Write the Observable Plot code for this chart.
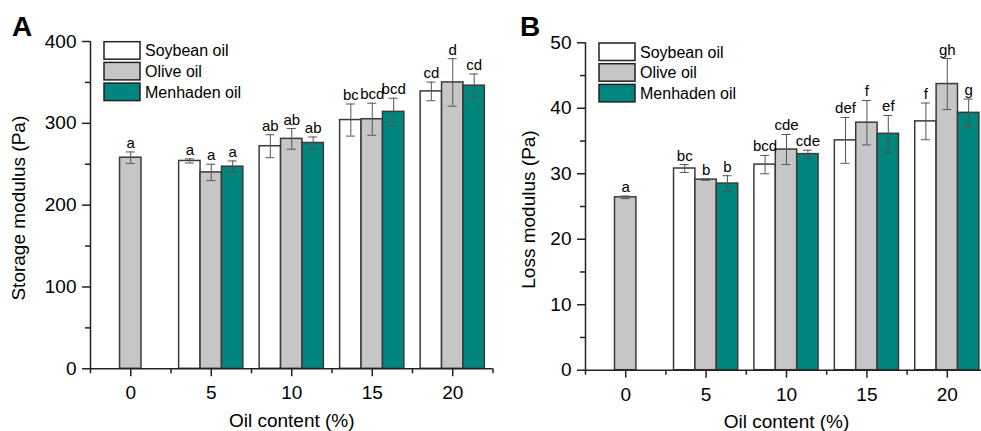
<!DOCTYPE html>
<html>
<head>
<meta charset="utf-8">
<script src="https://cdn.jsdelivr.net/npm/d3@7"></script>
<script src="https://cdn.jsdelivr.net/npm/@observablehq/plot@0.6"></script>
<style>
  html, body { margin: 0; padding: 0; background: #fff; }
  #wrap { display: flex; width: 981px; height: 431px; overflow: hidden; position: relative; }
  .panel { position: relative; flex: none; }
  .letter { position: absolute; font: bold 28px "Liberation Sans", Arial, sans-serif; line-height: 28px; }
</style>
</head>
<body>
<div id="wrap"></div>
<script>
// ---- Data ----
const contents = [0, 5, 10, 15, 20];
const oils = ["Soybean oil", "Olive oil", "Menhaden oil"];

// Storage modulus (Pa)
const storageSoybean = [null, 254, 272, 304, 339];
const storageOlive = [258, 240, 281, 305, 350];
const storageMenhaden = [null, 247, 276, 314, 346];
const storageSoybeanErr = [null, 2.5, 14, 19.6, 11.4];
const storageOliveErr = [7, 10, 12.6, 19.6, 29];
const storageMenhadenErr = [null, 7, 7.3, 16.7, 14.3];
const storageSoybeanLetters = [null, "a", "ab", "bc", "cd"];
const storageOliveLetters = ["a", "a", "ab", "bcd", "d"];
const storageMenhadenLetters = [null, "a", "ab", "bcd", "cd"];

// Loss modulus (Pa)
const lossSoybean = [null, 30.8, 31.4, 35.1, 38.0];
const lossOlive = [26.4, 29.1, 33.7, 37.8, 43.7];
const lossMenhaden = [null, 28.5, 33.0, 36.1, 39.3];
const lossSoybeanErr = [null, 0.6, 1.4, 3.5, 2.8];
const lossOliveErr = [0.2, 0.1, 2.3, 3.4, 3.9];
const lossMenhadenErr = [null, 1.2, 0.6, 2.8, 2.1];
const lossSoybeanLetters = [null, "bc", "bcd", "def", "f"];
const lossOliveLetters = ["a", "b", "cde", "f", "gh"];
const lossMenhadenLetters = [null, "b", "cde", "ef", "g"];

const storageTicks = [0, 100, 200, 300, 400];
const lossTicks = [0, 10, 20, 30, 40, 50];

// ---- Styling ----
const FONT = '"Liberation Sans", Arial, sans-serif';
const colors = ["#ffffff", "#c6c6c6", "#00857f"];
const barOffset = [-1.33, 0, 1.33];   // x offset per oil, data units
const barWidth = 1.33;
const cap = 0.28;

function buildRows(values, errs, letters) {
  const rows = [];
  oils.forEach((oil, k) => {
    values[k].forEach((v, i) => {
      if (v == null) return;
      const xc = contents[i] + barOffset[k];
      rows.push({
        oil, xc, x1: xc - barWidth / 2, x2: xc + barWidth / 2,
        value: v, lo: v - errs[k][i], hi: v + errs[k][i], letter: letters[k][i]
      });
    });
  });
  return rows;
}

function panel({rows, ticks, width, marginLeft, marginRight, marginTop, marginBottom, ytitle, titleDx, letter, letterLeft}) {
  const ymax = ticks[ticks.length - 1];
  const step = ticks[1] - ticks[0];
  const minorY = ticks.slice(0, -1).map(t => t + step / 2);
  const minorX = [-2.5, 2.5, 7.5, 12.5, 17.5, 22.5];
  const plot = Plot.plot({
    width, height: 431, marginLeft, marginRight, marginTop, marginBottom,
    x: {domain: [-2.5, 22.5]},
    y: {domain: [0, ymax]},
    color: {domain: oils, range: colors},
    style: {fontFamily: FONT, fontSize: "19px", color: "#000", background: "#fff", overflow: "visible"},
    marks: [
      Plot.rectY(rows, {x1: "x1", x2: "x2", y1: 0, y2: "value", fill: "oil", stroke: "#3a3a3a", strokeWidth: 1.5}),
      Plot.ruleX(rows, {x: "xc", y1: "lo", y2: "hi", stroke: "#555", strokeWidth: 1}),
      Plot.ruleY(rows, {y: "hi", x1: d => d.xc - cap, x2: d => d.xc + cap, stroke: "#555", strokeWidth: 1}),
      Plot.ruleY(rows, {y: "lo", x1: d => d.xc - cap, x2: d => d.xc + cap, stroke: "#555", strokeWidth: 1}),
      Plot.text(rows, {x: "xc", y: "hi", text: "letter", dy: -4, lineAnchor: "bottom", fontSize: 15, fill: "#000"}),
      Plot.ruleY([0], {stroke: "#222", strokeWidth: 1.5}),
      Plot.ruleX([-2.5], {stroke: "#222", strokeWidth: 1.5}),
      Plot.axisX({ticks: contents, tickSize: 8, tickPadding: 9, label: null, fontSize: 19, strokeWidth: 1.5, stroke: "#222"}),
      Plot.axisX({ticks: minorX, tickSize: 5, tickFormat: () => "", label: null, strokeWidth: 1.5, stroke: "#222"}),
      Plot.axisY({ticks, tickSize: 8, tickPadding: 6, label: null, fontSize: 19, strokeWidth: 1.5, stroke: "#222"}),
      Plot.axisY({ticks: minorY, tickSize: 5, tickFormat: () => "", label: null, strokeWidth: 1.5, stroke: "#222"}),
      Plot.text([ytitle], {text: d => d, frameAnchor: "left", textAnchor: "middle", lineAnchor: "middle", rotate: -90, dx: titleDx, dy: 3, fontSize: 19, fill: "#000"}),
      Plot.text(["Oil content (%)"], {text: d => d, frameAnchor: "bottom", textAnchor: "middle", lineAnchor: "middle", dy: 52, fontSize: 19, fill: "#000"})
    ]
  });
  plot.style.maxWidth = "none";
  // legend inside the frame
  const svg = d3.select(plot);
  const g = svg.append("g").attr("font-family", FONT).attr("font-size", 16).attr("text-anchor", "start");
  oils.forEach((oil, k) => {
    const y0 = marginTop + 0.7 + k * 20.7;
    g.append("rect").attr("x", marginLeft + 14).attr("y", y0).attr("width", 36).attr("height", 17.5)
      .attr("fill", colors[k]).attr("stroke", "#222").attr("stroke-width", 1.5);
    g.append("text").attr("x", marginLeft + 55).attr("y", y0 + 14.5).attr("fill", "#000").text(oil);
  });
  const div = document.createElement("div");
  div.className = "panel";
  div.style.width = width + "px";
  div.appendChild(plot);
  const l = document.createElement("div");
  l.className = "letter";
  l.style.left = letterLeft + "px";
  l.style.top = "13px";
  l.textContent = letter;
  div.appendChild(l);
  return div;
}

const wrap = document.getElementById("wrap");
wrap.appendChild(panel({
  rows: buildRows([storageSoybean, storageOlive, storageMenhaden],
                  [storageSoybeanErr, storageOliveErr, storageMenhadenErr],
                  [storageSoybeanLetters, storageOliveLetters, storageMenhadenLetters]),
  ticks: storageTicks, width: 495, marginLeft: 90, marginRight: 2.5, marginTop: 41, marginBottom: 62.7,
  ytitle: "Storage modulus (Pa)", titleDx: -72, letter: "A", letterLeft: 12
}));
wrap.appendChild(panel({
  rows: buildRows([lossSoybean, lossOlive, lossMenhaden],
                  [lossSoybeanErr, lossOliveErr, lossMenhadenErr],
                  [lossSoybeanLetters, lossOliveLetters, lossMenhadenLetters]),
  ticks: lossTicks, width: 494, marginLeft: 90, marginRight: 2, marginTop: 42.3, marginBottom: 61.3,
  ytitle: "Loss modulus (Pa)", titleDx: -57, letter: "B", letterLeft: 25
}));
</script>
</body>
</html>
